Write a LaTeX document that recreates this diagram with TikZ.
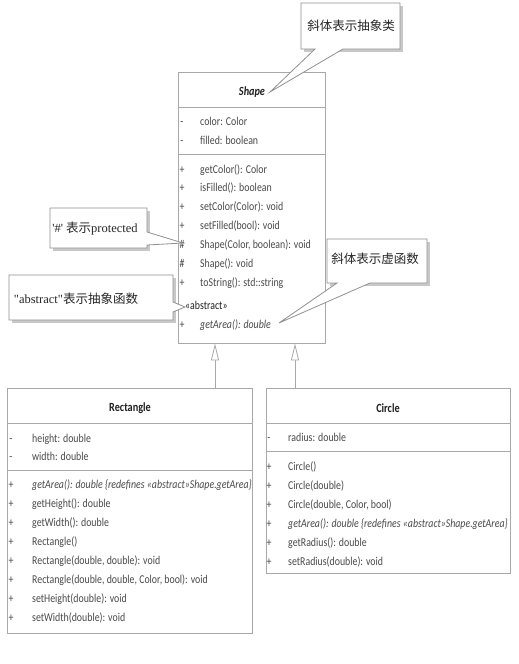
\documentclass[tikz,border=0pt]{standalone}
\usepackage{fontspec}
\setmainfont{Liberation Serif}
\newfontfamily\umlfont[FakeStretch=0.82]{Carlito}
\newfontfamily\cjk{Noto Sans CJK SC}
\usetikzlibrary{arrows.meta}
\definecolor{umlline}{HTML}{A8A8A8}
\definecolor{umltext}{HTML}{4A4A4A}
\definecolor{umltitle}{HTML}{202020}
\definecolor{shadowc}{HTML}{C8C8C8}
\definecolor{calline}{HTML}{909090}
\tikzset{
  umlbox/.style={draw=umlline, line width=0.8pt, fill=white, inner sep=0pt},
  sepline/.style={draw=umlline, line width=0.8pt},
  row/.style={anchor=west, inner sep=0pt, text height=8.5pt, text depth=2.5pt, text=umltext, font=\umlfont\fontsize{12}{14}\selectfont},
  marker/.style={inner sep=0pt, text height=8.5pt, text depth=2.5pt, text=umltext, font=\umlfont\fontsize{12}{14}\selectfont},
  umltitle/.style={inner sep=0pt, text=umltitle, font=\umlfont\bfseries\fontsize{12.5}{14}\selectfont},
  gen/.style={draw=umlline, line width=0.8pt, -{Triangle[open,length=17pt,width=8pt,fill=white]}},
  callout/.style={draw=calline, fill=white, line width=0.8pt, line join=miter},
  cshadow/.style={fill=shadowc},
  note/.style={inner sep=0pt, text=black!85, font=\fontsize{12.5}{14}\selectfont},
}
\begin{document}
\begin{tikzpicture}[x=1pt,y=-1pt]
\useasboundingbox[fill=white] (0,0) rectangle (519,664);

% ---------- Shape ----------
\node[umlbox, minimum width=147pt, minimum height=271pt] (shape) at (251.5,207.5) {};
\draw[sepline] (shape.west |- 0,107) -- (shape.east |- 0,107);
\draw[sepline] (shape.west |- 0,154) -- (shape.east |- 0,154);
\node[umltitle, font=\umlfont\bfseries\itshape\fontsize{12.5}{14}\selectfont] (shapeT) at (252,92) {Shape};
\foreach \t [count=\i] in {color: Color, filled: boolean}{
  \node[marker] (sam\i) at (182,{122+(\i-1)*19}) {-};
  \node[row] (sa\i) at (200,{122+(\i-1)*19}) {\t};
}
\foreach \m/\t [count=\i] in {+/getColor(): Color, +/isFilled(): boolean, +/setColor(Color): void, +/setFilled(bool): void, \#/{Shape(Color, boolean): void}, \#/Shape(): void, +/toString(): std::string}{
  \node[marker] (som\i) at (182,{170+(\i-1)*18.9}) {\m};
  \node[row] (so\i) at (200,{170+(\i-1)*18.9}) {\t};
}
\node[row, text=umltitle] (sabs) at (185,306) {«abstract»};
\node[marker] (som8) at (182,325) {+};
\node[row] (so8) at (200,325) {\itshape getArea(): double};

% ---------- Rectangle ----------
\node[umlbox, minimum width=245pt, minimum height=245pt] (rect) at (129.5,510.5) {};
\draw[sepline] (rect.west |- 0,423) -- (rect.east |- 0,423);
\draw[sepline] (rect.west |- 0,470) -- (rect.east |- 0,470);
\node[umltitle] (rectT) at (130,408) {Rectangle};
\foreach \t [count=\i] in {height: double, width: double}{
  \node[marker] (ram\i) at (11,{439+(\i-1)*18.5}) {-};
  \node[row] (ra\i) at (32,{439+(\i-1)*18.5}) {\t};
}
\foreach \t [count=\i] in {{\itshape getArea(): double \{redefines «abstract»Shape.getArea\}}, getHeight(): double, getWidth(): double, Rectangle(), {Rectangle(double, double): void}, {Rectangle(double, double, Color, bool): void}, setHeight(double): void, setWidth(double): void}{
  \node[marker] (rom\i) at (11,{485+(\i-1)*19}) {+};
  \node[row] (ro\i) at (32,{485+(\i-1)*19}) {\t};
}

% ---------- Circle ----------
\node[umlbox, minimum width=244pt, minimum height=185pt] (circ) at (388,480.5) {};
\draw[sepline] (circ.west |- 0,423) -- (circ.east |- 0,423);
\draw[sepline] (circ.west |- 0,451) -- (circ.east |- 0,451);
\node[umltitle] (circT) at (388,408) {Circle};
\node[marker] (cam1) at (269,438) {-};
\node[row] (ca1) at (288,438) {radius: double};
\foreach \t [count=\i] in {Circle(), Circle(double), {Circle(double, Color, bool)}, {\itshape getArea(): double \{redefines «abstract»Shape.getArea\}}, getRadius(): double, setRadius(double): void}{
  \node[marker] (com\i) at (269,{467+(\i-1)*19}) {+};
  \node[row] (co\i) at (288,{467+(\i-1)*19}) {\t};
}

% ---------- generalizations ----------
\draw[gen] (215,0 |- rect.north) -- (215,0 |- shape.south);
\draw[gen] (295,0 |- circ.north) -- (295,0 |- shape.south);

% ---------- callouts ----------
% 1: abstract class
\path[cshadow, shift={(3,3)}] (301,3) -- (400,3) -- (400,49) -- (301,49) -- cycle;
\path[callout] (301,3) -- (400,3) -- (400,49) -- (343,49) -- (270,92) -- (315,49) -- (301,49) -- cycle;
\node[note] (n1) at (351,26) {\cjk 斜体表示抽象类};
% 2: protected
\path[cshadow, shift={(3,3)}] (50,208) -- (147,208) -- (147,248) -- (50,248) -- cycle;
\path[callout] (50,208) -- (147,208) -- (147,232) -- (183,243) -- (147,245) -- (147,248) -- (50,248) -- cycle;
\node[note] (n2) at (95,229) {\textquotesingle\#\textquotesingle\ {\cjk 表示}protected};
% 3: abstract function
\path[cshadow, shift={(3,3)}] (9,275) -- (173,275) -- (173,320) -- (9,320) -- cycle;
\path[callout] (9,275) -- (173,275) -- (173,302) -- (185,307) -- (173,312) -- (173,320) -- (9,320) -- cycle;
\node[note] (n3) at (76,299) {\textquotedbl abstract\textquotedbl{\cjk 表示抽象函数}};
% 4: virtual function
\path[cshadow, shift={(3,3)}] (327,239) -- (427,239) -- (427,283) -- (327,283) -- cycle;
\path[callout] (327,239) -- (427,239) -- (427,283) -- (370,283) -- (279,323) -- (337,283) -- (327,283) -- cycle;
\node[note] (n4) at (375,259) {\cjk 斜体表示虚函数};
\end{tikzpicture}
\end{document}
